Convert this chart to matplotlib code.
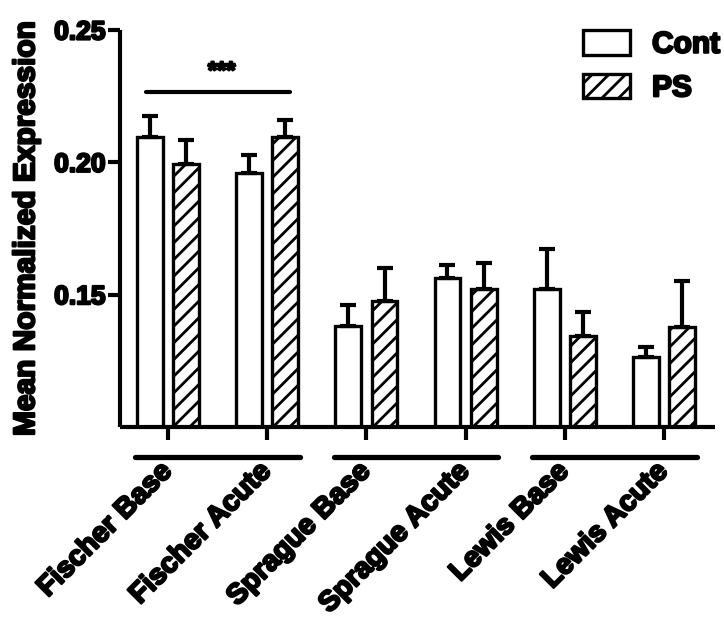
import numpy as np
import matplotlib
matplotlib.use("Agg")
import matplotlib.pyplot as plt
import matplotlib.transforms as mtransforms
import matplotlib.patheffects as pe

categories = ["Fischer Base", "Fischer Acute", "Sprague Base", "Sprague Acute", "Lewis Base", "Lewis Acute"]
cont_vals = [0.2096, 0.1960, 0.1382, 0.1563, 0.1522, 0.1265]
cont_err = [0.0079, 0.0068, 0.0079, 0.0049, 0.0151, 0.0038]
ps_vals = [0.1994, 0.2096, 0.1476, 0.1522, 0.1344, 0.1378]
ps_err = [0.0091, 0.0064, 0.0125, 0.0098, 0.0091, 0.0174]
series_names = ["Cont", "PS"]
yticks = [0.15, 0.20, 0.25]
ytick_labels = ["0.15", "0.20", "0.25"]
sig_text = "***"

plt.rcParams["font.family"] = ["Liberation Sans", "DejaVu Sans"]
plt.rcParams["font.weight"] = "bold"
plt.rcParams["hatch.linewidth"] = 2.0
plt.rcParams["hatch.color"] = "black"

stroke = [pe.withStroke(linewidth=1.6, foreground="black")]

fig = plt.figure(figsize=(7.24, 6.21), dpi=100)
ax = fig.add_axes([120 / 724, 1 - 427 / 621, 595 / 724, 397 / 621])

x = np.arange(len(categories))
off = 0.183
w = 0.26
ax.bar(x - off, cont_vals, w, facecolor="white", edgecolor="black", linewidth=2.4, zorder=2, label=series_names[0])
ax.bar(x + off, ps_vals, w, facecolor="white", edgecolor="black", linewidth=2.4, hatch="//", zorder=2, label=series_names[1])
z = np.zeros(len(categories))
ax.errorbar(x - off, cont_vals, yerr=[z, cont_err], fmt="none", ecolor="black", elinewidth=3, capsize=5.5, capthick=3, zorder=3)
ax.errorbar(x + off, ps_vals, yerr=[z, ps_err], fmt="none", ecolor="black", elinewidth=3, capsize=5.5, capthick=3, zorder=3)

ax.set_ylim(0.10, 0.25)
ax.set_xlim(-0.484, 5.514)
for s in ["top", "right"]:
    ax.spines[s].set_visible(False)
for s in ["left", "bottom"]:
    ax.spines[s].set_linewidth(3)
    ax.spines[s].set_capstyle("butt")

ax.set_yticks(yticks)
ax.set_yticklabels(ytick_labels, fontsize=19, fontweight="bold")
ax.tick_params(axis="y", direction="out", length=8.5, width=3, pad=2)
ax.set_xticks(x)
ax.set_xticklabels(categories, fontsize=20.5, fontweight="bold", rotation=45, ha="right", rotation_mode="anchor")
ax.tick_params(axis="x", direction="out", length=9.5, width=3, pad=13)
for lab in ax.get_xticklabels():
    lab.set_transform(lab.get_transform() + mtransforms.ScaledTranslation(-9 / 100, 0, fig.dpi_scale_trans))
for lab in ax.get_xticklabels() + ax.get_yticklabels():
    lab.set_path_effects(stroke)

ax.set_ylabel("Mean Normalized Expression", fontsize=21.5, fontweight="bold", labelpad=10, path_effects=stroke)

# group brackets below axis
trans = mtransforms.blended_transform_factory(ax.transData, ax.transAxes)
ybr = -30 / 397
for g in range(3):
    c = 2 * g + 0.5
    ax.plot([c - 0.83, c + 0.83], [ybr, ybr], color="black", lw=3.8, solid_capstyle="round", transform=trans, clip_on=False)

# significance line
ax.plot([-0.222, 1.23], [0.2265, 0.2265], color="black", lw=3, solid_capstyle="round")
ax.text(0.54, 0.2300, sig_text, ha="center", va="bottom", fontsize=17, fontweight="bold", path_effects=stroke)

leg = ax.legend(loc="upper right", bbox_to_anchor=(726 / 724, 1 - 24 / 621), bbox_transform=fig.transFigure,
                frameon=False, fontsize=21.5, handlelength=1.55, handleheight=0.9, handletextpad=0.75,
                labelspacing=0.5, borderaxespad=0, borderpad=0.2)
for t in leg.get_texts():
    t.set_path_effects(stroke)

fig.savefig("out.png", dpi=100)
